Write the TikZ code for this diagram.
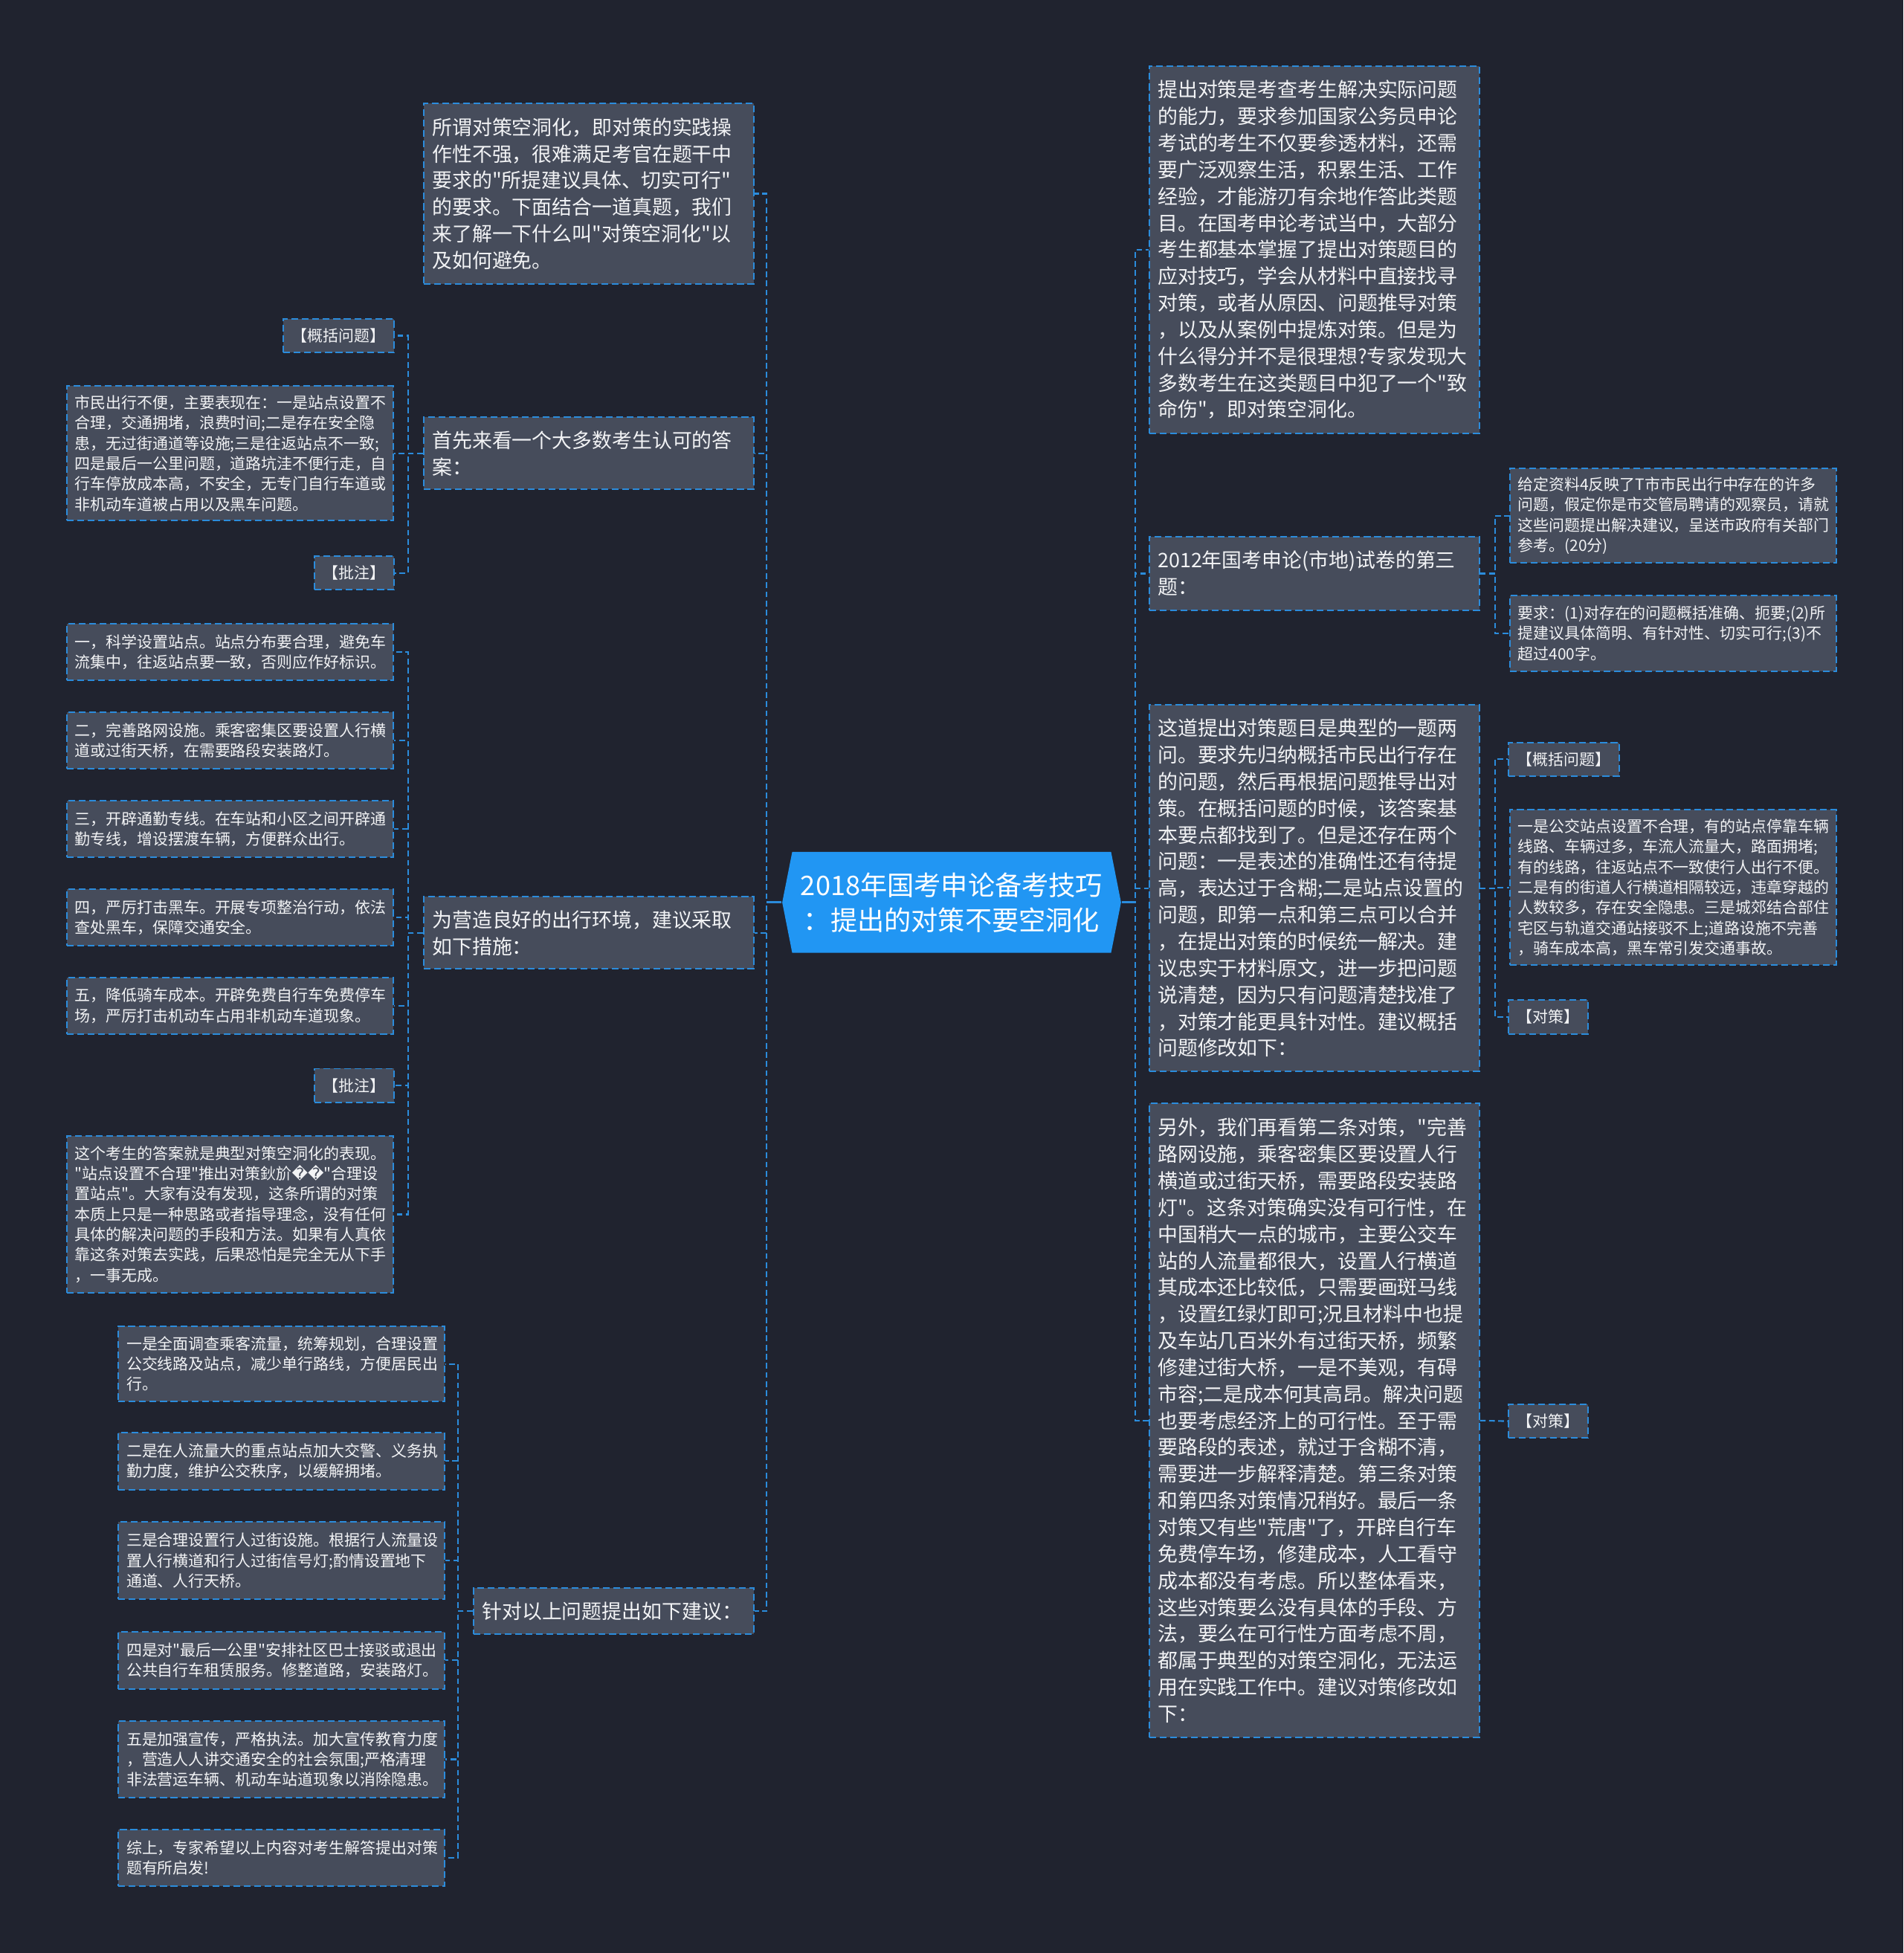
\documentclass[tikz,border=0pt]{standalone}
\usepackage{fontspec}
\setmainfont{Noto Sans CJK SC}[Ligatures=TeXOff]
\newfontfamily\symfont{DejaVu Sans}
\usepackage{tikz}
\definecolor{canvas}{HTML}{20232F}
\definecolor{cardfill}{HTML}{464C5B}
\definecolor{wire}{HTML}{2B8CDC}
\definecolor{hubfill}{HTML}{2196F3}
\definecolor{ink}{HTML}{F2F3F5}
\newdimen\pxu \pxu=0.4767pt
\newcommand\bigtxt{\fontsize{7.65pt}{10.2pt}\selectfont}
\newcommand\smalltxt{\fontsize{5.96pt}{7.77pt}\selectfont}
\newcommand\hubtxt{\fontsize{10.3pt}{13.3pt}\selectfont}
\tikzset{
  boxbase/.style  = {rectangle, draw=wire, line width=0.55pt,
                     dash pattern=on 2.6pt off 1.4pt, fill=cardfill,
                     text=ink, inner xsep=7\pxu, inner ysep=0pt},
  topic/.style    = {boxbase, font=\bigtxt, align=left, text width=251\pxu},
  detail/.style   = {boxbase, font=\smalltxt, align=left, text width=249\pxu,
                     inner xsep=6.5\pxu},
  tag/.style      = {boxbase, font=\smalltxt, align=center, minimum height=27\pxu},
  hubnode/.style  = {rectangle, inner sep=0pt, minimum width=272\pxu,
                     minimum height=81\pxu, align=center, text=white, font=\hubtxt,
                     path picture={\fill[hubfill] (path picture bounding box.west)
                       -- ([xshift=8\pxu]path picture bounding box.north west)
                       -- ([xshift=-8\pxu]path picture bounding box.north east)
                       -- (path picture bounding box.east)
                       -- ([xshift=-8\pxu]path picture bounding box.south east)
                       -- ([xshift=8\pxu]path picture bounding box.south west)
                       -- cycle;}},
  link/.style     = {draw=wire, line width=0.6pt, dash pattern=on 2.2pt off 1.3pt},
  stub/.style     = {draw=wire, line width=0.9pt},
}

\begin{document}
\begin{tikzpicture}[x=0.4767pt, y=-0.4767pt]

  \fill[canvas] (0,0) rectangle (1528,1568);

  \node[hubnode] (hub) at (764,724.5) {2018年国考申论备考技巧\\：提出的对策不要空洞化};

  % left side
  \node[topic, minimum height=145\pxu] (why) at (472.5,155.5)
       {所谓对策空洞化，即对策的实践操\\作性不强，很难满足考官在题干中\\要求的"所提建议具体、切实可行"\\的要求。下面结合一道真题，我们\\来了解一下什么叫"对策空洞化"以\\及如何避免。};
  \node[topic, minimum height=58\pxu] (answer) at (472.5,364)
       {首先来看一个大多数考生认可的答\\案：};
  \node[topic, minimum height=58\pxu] (measure) at (472.5,749)
       {为营造良好的出行环境，建议采取\\如下措施：};
  \node[topic, minimum height=37\pxu, text width=211\pxu] (advice) at (492.5,1293.5)
       {针对以上问题提出如下建议：};

  \node[tag, minimum width=88\pxu] (tagSum) at (272,269.5) {【概括问题】};
  \node[detail, minimum height=108\pxu] (ansText) at (184.5,364)
       {市民出行不便，主要表现在：一是站点设置不\\合理，交通拥堵，浪费时间;二是存在安全隐\\患，无过街通道等设施;三是往返站点不一致;\\四是最后一公里问题，道路坑洼不便行走，自\\行车停放成本高，不安全，无专门自行车道或\\非机动车道被占用以及黑车问题。};
  \node[tag, minimum width=63\pxu] (tagNote1) at (284.5,460) {【批注】};

  \node[detail, minimum height=45\pxu] (m1) at (184.5,523.5)
       {一，科学设置站点。站点分布要合理，避免车\\流集中，往返站点要一致，否则应作好标识。};
  \node[detail, minimum height=45\pxu] (m2) at (184.5,594.5)
       {二，完善路网设施。乘客密集区要设置人行横\\道或过街天桥，在需要路段安装路灯。};
  \node[detail, minimum height=45\pxu] (m3) at (184.5,665.5)
       {三，开辟通勤专线。在车站和小区之间开辟通\\勤专线，增设摆渡车辆，方便群众出行。};
  \node[detail, minimum height=45\pxu] (m4) at (184.5,736.5)
       {四，严厉打击黑车。开展专项整治行动，依法\\查处黑车，保障交通安全。};
  \node[detail, minimum height=45\pxu] (m5) at (184.5,807.5)
       {五，降低骑车成本。开辟免费自行车免费停车\\场，严厉打击机动车占用非机动车道现象。};
  \node[tag, minimum width=63\pxu] (tagNote2) at (284.5,871.5) {【批注】};
  \node[detail, minimum height=126\pxu] (noteText) at (184.5,975)
       {这个考生的答案就是典型对策空洞化的表现。\\"站点设置不合理"推出对策鈥斺{\symfont ��}"合理设\\置站点"。大家有没有发现，这条所谓的对策\\本质上只是一种思路或者指导理念，没有任何\\具体的解决问题的手段和方法。如果有人真依\\靠这条对策去实践，后果恐怕是完全无从下手\\，一事无成。};

  \node[detail, minimum height=60\pxu] (v1) at (226,1095)
       {一是全面调查乘客流量，统筹规划，合理设置\\公交线路及站点，减少单行路线，方便居民出\\行。};
  \node[detail, minimum height=46\pxu] (v2) at (226,1173)
       {二是在人流量大的重点站点加大交警、义务执\\勤力度，维护公交秩序，以缓解拥堵。};
  \node[detail, minimum height=62\pxu] (v3) at (226,1253)
       {三是合理设置行人过街设施。根据行人流量设\\置人行横道和行人过街信号灯;酌情设置地下\\通道、人行天桥。};
  \node[detail, minimum height=46\pxu] (v4) at (226,1333)
       {四是对"最后一公里"安排社区巴士接驳或退出\\公共自行车租赁服务。修整道路，安装路灯。};
  \node[detail, minimum height=61\pxu] (v5) at (226,1412.5)
       {五是加强宣传，严格执法。加大宣传教育力度\\，营造人人讲交通安全的社会氛围;严格清理\\非法营运车辆、机动车站道现象以消除隐患。};
  \node[detail, minimum height=45\pxu] (v6) at (226,1491.5)
       {综上，专家希望以上内容对考生解答提出对策\\题有所启发!};

  % right side
  \node[topic, minimum height=295\pxu] (intro) at (1055,200.5)
       {提出对策是考查考生解决实际问题\\的能力，要求参加国家公务员申论\\考试的考生不仅要参透材料，还需\\要广泛观察生活，积累生活、工作\\经验，才能游刃有余地作答此类题\\目。在国考申论考试当中，大部分\\考生都基本掌握了提出对策题目的\\应对技巧，学会从材料中直接找寻\\对策，或者从原因、问题推导对策\\，以及从案例中提炼对策。但是为\\什么得分并不是很理想?专家发现大\\多数考生在这类题目中犯了一个"致\\命伤"，即对策空洞化。};
  \node[topic, minimum height=59\pxu] (exam) at (1055,460.5)
       {2012年国考申论(市地)试卷的第三\\题：};
  \node[topic, minimum height=294\pxu] (review) at (1055,713)
       {这道提出对策题目是典型的一题两\\问。要求先归纳概括市民出行存在\\的问题，然后再根据问题推导出对\\策。在概括问题的时候，该答案基\\本要点都找到了。但是还存在两个\\问题：一是表述的准确性还有待提\\高，表达过于含糊;二是站点设置的\\问题，即第一点和第三点可以合并\\，在提出对策的时候统一解决。建\\议忠实于材料原文，进一步把问题\\说清楚，因为只有问题清楚找准了\\，对策才能更具针对性。建议概括\\问题修改如下：};
  \node[topic, minimum height=509\pxu] (critique) at (1055,1140.5)
       {另外，我们再看第二条对策，"完善\\路网设施，乘客密集区要设置人行\\横道或过街天桥，需要路段安装路\\灯"。这条对策确实没有可行性，在\\中国稍大一点的城市，主要公交车\\站的人流量都很大，设置人行横道\\其成本还比较低，只需要画斑马线\\，设置红绿灯即可;况且材料中也提\\及车站几百米外有过街天桥，频繁\\修建过街大桥，一是不美观，有碍\\市容;二是成本何其高昂。解决问题\\也要考虑经济上的可行性。至于需\\要路段的表述，就过于含糊不清，\\需要进一步解释清楚。第三条对策\\和第四条对策情况稍好。最后一条\\对策又有些"荒唐"了，开辟自行车\\免费停车场，修建成本，人工看守\\成本都没有考虑。所以整体看来，\\这些对策要么没有具体的手段、方\\法，要么在可行性方面考虑不周，\\都属于典型的对策空洞化，无法运\\用在实践工作中。建议对策修改如\\下：};

  \node[detail, minimum height=76\pxu] (task) at (1343,414)
       {给定资料4反映了T市市民出行中存在的许多\\问题，假定你是市交管局聘请的观察员，请就\\这些问题提出解决建议，呈送市政府有关部门\\参考。(20分)};
  \node[detail, minimum height=61\pxu] (demand) at (1343,508.5)
       {要求：(1)对存在的问题概括准确、扼要;(2)所\\提建议具体简明、有针对性、切实可行;(3)不\\超过400字。};
  \node[tag, minimum width=87\pxu] (tagSum2) at (1255.5,609.5) {【概括问题】};
  \node[detail, minimum height=125\pxu] (sumText) at (1343,712.5)
       {一是公交站点设置不合理，有的站点停靠车辆\\线路、车辆过多，车流人流量大，路面拥堵;\\有的线路，往返站点不一致使行人出行不便。\\二是有的街道人行横道相隔较远，违章穿越的\\人数较多，存在安全隐患。三是城郊结合部住\\宅区与轨道交通站接驳不上;道路设施不完善\\，骑车成本高，黑车常引发交通事故。};
  \node[tag, minimum width=62\pxu] (tagPlan1) at (1243,816.5) {【对策】};
  \node[tag, minimum width=62\pxu] (tagPlan2) at (1243,1141) {【对策】};

  % connectors
  \draw[stub] (hub.west) -- ++(-12,0);
  \draw[stub] (hub.east) -- ++(11,0);
  \foreach \n in {why,answer,measure,advice}
    \draw[link] (hub.west) -- ++(-12,0) |- (\n.east);
  \foreach \n in {intro,exam,review,critique}
    \draw[link] (hub.east) -- ++(11,0) |- (\n.west);
  \foreach \n in {tagSum,ansText,tagNote1}
    \draw[link] (answer.west) -- ++(-12,0) |- (\n.east);
  \foreach \n in {m1,m2,m3,m4,m5,tagNote2,noteText}
    \draw[link] (measure.west) -- ++(-12,0) |- (\n.east);
  \foreach \n in {v1,v2,v3,v4,v5,v6}
    \draw[link] (advice.west) -- ++(-12,0) |- (\n.east);
  \foreach \n in {task,demand}
    \draw[link] (exam.east) -- ++(12,0) |- (\n.west);
  \foreach \n in {tagSum2,sumText,tagPlan1}
    \draw[link] (review.east) -- ++(12,0) |- (\n.west);
  \draw[link] (critique.east) -- (tagPlan2.west);

\end{tikzpicture}
\end{document}
